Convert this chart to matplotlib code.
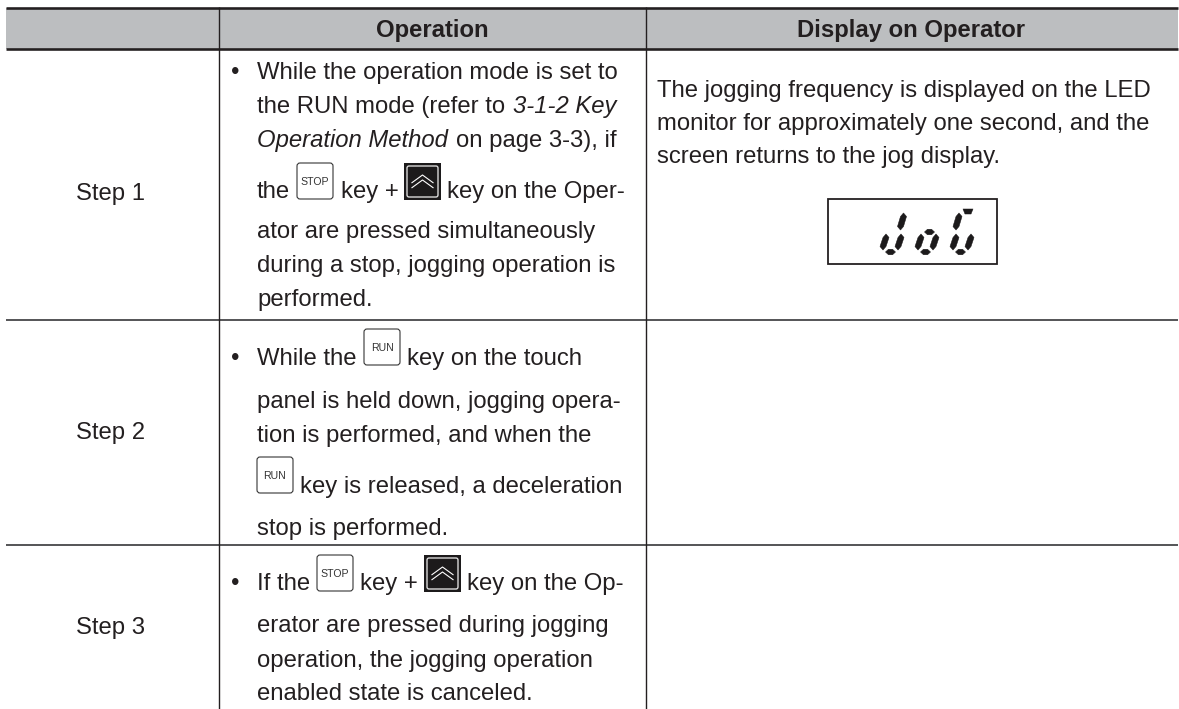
import matplotlib
matplotlib.use("Agg")
import matplotlib.pyplot as plt
from matplotlib.patches import FancyBboxPatch, Rectangle, Polygon

plt.rcParams['font.family'] = ['Liberation Sans', 'DejaVu Sans']

HEADERS = ["Operation", "Display on Operator"]
STEPS = ["Step 1", "Step 2", "Step 3"]
ROW1 = ["While the operation mode is set to", "the RUN mode (refer to", "3-1-2 Key",
        "Operation Method", "on page 3-3), if", "the", "key +", "key on the Oper-",
        "ator are pressed simultaneously", "during a stop, jogging operation is", "performed."]
ROW2 = ["While the", "key on the touch", "panel is held down, jogging opera-",
        "tion is performed, and when the", "key is released, a deceleration", "stop is performed."]
ROW3 = ["If the", "key +", "key on the Op-", "erator are pressed during jogging",
        "operation, the jogging operation", "enabled state is canceled."]
DISPLAY = ["The jogging frequency is displayed on the LED",
           "monitor for approximately one second, and the",
           "screen returns to the jog display."]

INK = "#231f20"
FS = 17.2
px = 72 / 100

fig = plt.figure(figsize=(11.79, 7.09), dpi=100)
ax = fig.add_axes([0, 0, 1, 1])
ax.set_xlim(0, 1179)
ax.set_ylim(709, 0)
ax.axis("off")


def T(x, y, s, **kw):
    kw.setdefault("color", INK)
    kw.setdefault("fontsize", FS)
    kw.setdefault("va", "baseline")
    ax.text(x, y, s, **kw)


def key(x, y, label, w=36, h=36):
    ax.add_patch(FancyBboxPatch((x + 2, y + 2), w - 4, h - 4,
                                boxstyle="round,pad=2,rounding_size=3",
                                fc="white", ec="#333333", lw=1.1 * px, zorder=3))
    T(x + w / 2, y + h / 2 + 1, label, ha="center", va="center", fontsize=7.6,
      color="#333333", zorder=4)


def upkey(x, y, w=37, h=37):
    ax.add_patch(Rectangle((x, y), w, h, fc="#1c1a1b", ec="none", zorder=3))
    ax.add_patch(FancyBboxPatch((x + 3, y + 3), w - 6, h - 6,
                                boxstyle="round,pad=0,rounding_size=2",
                                fc="#1c1a1b", ec="#e6e6e6", lw=1.3 * px, zorder=4))
    for a in (12, 17):
        ax.plot([x + 7.5, x + w / 2, x + w - 7.5], [y + a + 8, y + a, y + a + 8],
                color="white", lw=1.1 * px, zorder=5, solid_capstyle="butt")


# table frame
ax.add_patch(Rectangle((6, 8), 1172, 41, fc="#bcbec0", ec="none", zorder=0))
for y in (8, 49):
    ax.plot([6, 1178], [y, y], color="#231f20", lw=2.6 * px, solid_capstyle="butt", zorder=2)
for y in (320, 545):
    ax.plot([6, 1178], [y, y], color="#58585a", lw=2 * px, solid_capstyle="butt", zorder=1)
for x in (219, 646):
    ax.plot([x, x], [7, 709], color="#231f20", lw=1.4 * px, solid_capstyle="butt", zorder=2)

# headers
T(432, 37, HEADERS[0], ha="center", fontweight="bold")
T(911, 37, HEADERS[1], ha="center", fontweight="bold")

# step labels
for s, y in zip(STEPS, (200, 439, 634)):
    T(111, y, s, ha="center")

# bullets
for y in (79, 365, 590):
    T(235, y, "•", ha="center")

# row 1
L = 257
T(L, 79, ROW1[0])
T(L, 113, ROW1[1])
T(513, 113, ROW1[2], style="italic")
T(L, 147, ROW1[3], style="italic")
T(456, 147, ROW1[4])
T(L, 198, ROW1[5])
key(297, 163, "STOP")
T(341, 198, ROW1[6])
upkey(404, 163)
T(447, 198, ROW1[7])
T(L, 238, ROW1[8])
T(L, 272, ROW1[9])
T(L, 306, ROW1[10])

# row 2
T(L, 365, ROW2[0])
key(364, 329, "RUN")
T(407, 365, ROW2[1])
T(L, 408, ROW2[2])
T(L, 442, ROW2[3])
key(257, 457, "RUN")
T(300, 493, ROW2[4])
T(L, 535, ROW2[5])

# row 3
T(L, 590, ROW3[0])
key(317, 555, "STOP")
T(360, 590, ROW3[1])
upkey(424, 555)
T(467, 590, ROW3[2])
T(L, 632, ROW3[3])
T(L, 667, ROW3[4])
T(L, 700, ROW3[5])

# display column
for s, y in zip(DISPLAY, (97, 130, 163)):
    T(657, y, s)

# LED monitor
ax.add_patch(Rectangle((828, 199), 169, 65, fc="white", ec="#231f20", lw=1.8 * px, zorder=2))


def vseg(x_top, y_top, x_bot, y_bot, w=6.0):
    return [(x_top, y_top), (x_top + w / 2, y_top + 3.5), (x_bot + w / 2, y_bot - 3.5),
            (x_bot, y_bot), (x_bot - w / 2, y_bot - 3.5), (x_top - w / 2, y_top + 3.5)]


def hseg(x0, x1, y, h=5.5):
    return [(x0, y), (x0 + 3, y - h / 2), (x1 - 3, y - h / 2), (x1, y),
            (x1 - 3, y + h / 2), (x0 + 3, y + h / 2)]


SEG = {
    "ur": vseg(903.5, 213, 900.5, 230),
    "ul": vseg(889, 213, 886, 230),
    "ll": vseg(886, 234, 883, 250),
    "lr": vseg(901, 234, 898, 250),
    "b":  hseg(885.5, 895.5, 252),
    "m":  hseg(889.5, 899.5, 232),
    "t":  [(893, 209), (903, 209), (901, 214), (895, 214)],
}
DIGITS = [("ur", "ll", "lr", "b"), ("m", "ll", "lr", "b"), ("t", "ul", "ll", "lr", "b")]
for i, segs in enumerate(DIGITS):
    for name in segs:
        pts = [(x + 35 * i, y) for x, y in SEG[name]]
        ax.add_patch(Polygon(pts, closed=True, fc="#1c1a1b", ec="#1c1a1b",
                             lw=0.5 * px, joinstyle="round", zorder=3))

fig.savefig("out.png", dpi=100, facecolor="white")
